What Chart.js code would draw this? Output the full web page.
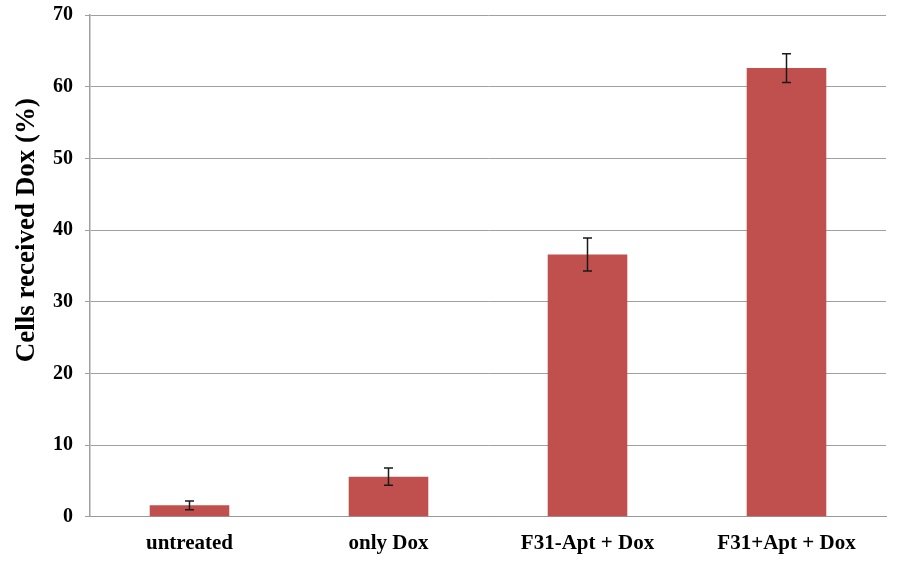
<!DOCTYPE html>
<html>
<head>
<meta charset="utf-8">
<script src="https://cdn.jsdelivr.net/npm/chart.js@4.4.0/dist/chart.umd.min.js"></script>
<style>
  html, body { margin: 0; padding: 0; background: #fff; }
  #wrap { width: 900px; height: 561px; }
</style>
</head>
<body>
<div id="wrap"><canvas id="barChart"></canvas></div>
<script>
// Data
const categories = ['untreated', 'only Dox', 'F31-Apt + Dox', 'F31+Apt + Dox'];
const values = [1.6, 5.6, 36.6, 62.6];
const errors = [0.6, 1.2, 2.3, 2.0];
const yTicks = [0, 10, 20, 30, 40, 50, 60, 70];
const yTitle = 'Cells received Dox (%)';

// Draw error bars on top of the bars using the y scale
const errorBars = {
    id: 'errorBars',
    afterDatasetsDraw(chart) {
        const ctx = chart.ctx;
        const y = chart.scales.y;
        const meta = chart.getDatasetMeta(0);
        ctx.save();
        ctx.strokeStyle = '#1a1a1a';
        ctx.lineWidth = 1.5;
        meta.data.forEach((bar, i) => {
            const top = y.getPixelForValue(values[i] + errors[i]);
            const bottom = y.getPixelForValue(values[i] - errors[i]);
            const cap = 4.5;
            ctx.beginPath();
            ctx.moveTo(bar.x, top);
            ctx.lineTo(bar.x, bottom);
            ctx.moveTo(bar.x - cap, top);
            ctx.lineTo(bar.x + cap, top);
            ctx.moveTo(bar.x - cap, bottom);
            ctx.lineTo(bar.x + cap, bottom);
            ctx.stroke();
        });
        ctx.restore();
    }
};

// Y axis title, sitting a little above the axis centre like the original
const axisTitle = {
    id: 'axisTitle',
    afterDraw(chart) {
        const ctx = chart.ctx;
        const y = chart.scales.y;
        ctx.save();
        ctx.translate(27, y.getPixelForValue(40));
        ctx.rotate(-Math.PI / 2);
        ctx.fillStyle = '#000';
        ctx.font = 'bold 27px "Liberation Serif"';
        ctx.textAlign = 'center';
        ctx.textBaseline = 'middle';
        ctx.fillText(yTitle, 0, 0);
        ctx.restore();
    }
};

const ctx = document.getElementById('barChart').getContext('2d');
new Chart(ctx, {
    type: 'bar',
    data: {
        labels: categories,
        datasets: [{
            data: values,
            backgroundColor: '#C0504D',
            categoryPercentage: 1.0,
            barPercentage: 0.4
        }]
    },
    options: {
        responsive: true,
        maintainAspectRatio: false,
        animation: false,
        layout: { padding: { top: 0, right: 14, left: 41, bottom: -1 } },
        plugins: {
            legend: { display: false },
            tooltip: { enabled: false }
        },
        scales: {
            x: {
                grid: { display: false },
                border: { color: '#999999', width: 1 },
                ticks: {
                    color: '#000',
                    padding: 6,
                    font: { family: 'Liberation Serif', size: 21, weight: 'bold' }
                }
            },
            y: {
                min: 0,
                max: 70,
                afterBuildTicks(axis) {
                    axis.ticks = yTicks.map(v => ({ value: v }));
                },
                afterFit(axis) {
                    axis.paddingTop = 15;
                },
                grid: { color: '#a0a0a0', lineWidth: 1, tickLength: 5 },
                border: { color: '#a0a0a0', width: 1.5 },
                ticks: {
                    color: '#000',
                    padding: 12,
                    font: { family: 'Liberation Serif', size: 20, weight: 'bold' }
                }
            }
        }
    },
    plugins: [errorBars, axisTitle]
});
</script>
</body>
</html>
